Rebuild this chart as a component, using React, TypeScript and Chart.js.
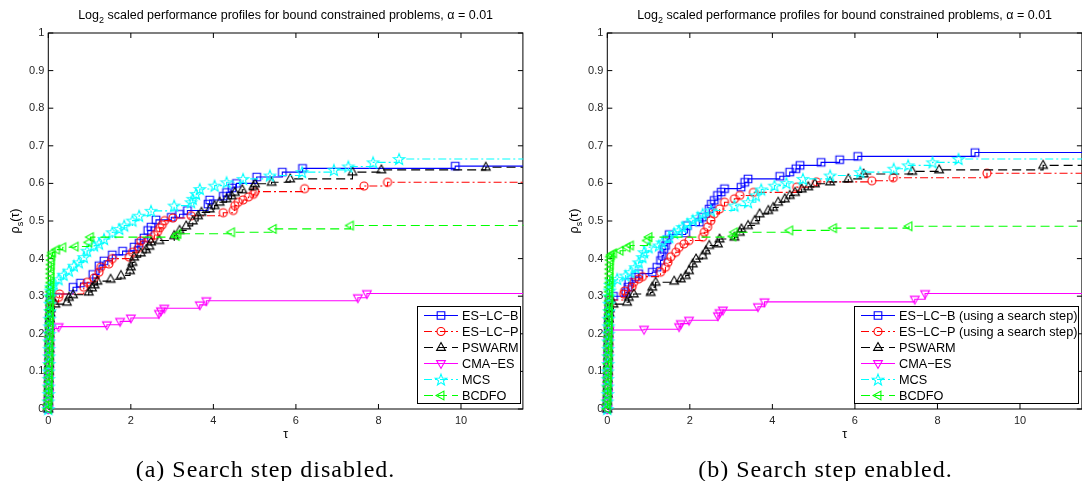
import React, { useEffect, useRef } from 'react';
import { Chart, registerables } from 'chart.js';
Chart.register(...registerables);

type Pt = [number, number];

const TAU_MAX = 11.5;
const X_TICKS = [0, 2, 4, 6, 8, 10];
const Y_TICKS = [0, 0.1, 0.2, 0.3, 0.4, 0.5, 0.6, 0.7, 0.8, 0.9, 1];
const NAMES_A = ['ES−LC−B', 'ES−LC−P', 'PSWARM', 'CMA−ES', 'MCS', 'BCDFO'];
const NAMES_B = ['ES−LC−B (using a search step)', 'ES−LC−P (using a search step)', 'PSWARM', 'CMA−ES', 'MCS', 'BCDFO'];
const TITLE_PARTS = ['Log', '2', ' scaled performance profiles for bound constrained problems, α = 0.01'];
const YLABEL_PARTS = ['ρ', 's', '(τ)'];
const XLABEL = 'τ';
const CAPTION_A = '(a) Search step disabled.';
const CAPTION_B = '(b) Search step enabled.';

// ---- (a) search step disabled ----
const A_ESLCB: Pt[] = [[0, 0], [0, 0.02], [0.01, 0.04], [0.01, 0.06], [0.01, 0.08], [0.01, 0.1], [0.02, 0.12], [0.02, 0.14], [0.02, 0.16], [0.02, 0.18], [0.03, 0.2], [0.03, 0.22], [0.03, 0.24], [0.04, 0.26], [0.04, 0.28], [0.05, 0.295], [0.06, 0.306],
  [0.6, 0.324], [0.78, 0.335], [1.08, 0.358], [1.23, 0.381], [1.35, 0.394], [1.55, 0.41], [1.8, 0.42], [2.08, 0.431], [2.2, 0.441], [2.32, 0.455], [2.41, 0.475], [2.49, 0.484], [2.61, 0.503], [2.98, 0.51], [3.18, 0.518], [3.37, 0.528], [3.87, 0.545], [3.91, 0.556], [4.24, 0.566], [4.32, 0.576], [4.45, 0.588], [4.56, 0.6], [5.05, 0.617], [5.67, 0.63], [6.16, 0.64], [9.86, 0.646], [TAU_MAX, 0.646]];
const A_ESLCP: Pt[] = [[0, 0], [0, 0.02], [0.01, 0.04], [0.01, 0.06], [0.01, 0.08], [0.02, 0.1], [0.02, 0.12], [0.02, 0.14], [0.02, 0.16], [0.03, 0.18], [0.03, 0.2], [0.03, 0.22], [0.04, 0.24], [0.04, 0.26], [0.05, 0.275], [0.06, 0.285],
  [0.25, 0.297], [0.27, 0.306], [0.86, 0.324], [0.94, 0.337], [1.11, 0.348], [1.23, 0.364], [1.27, 0.377], [1.47, 0.386], [1.55, 0.4], [1.96, 0.404], [2.04, 0.417], [2.2, 0.43], [2.24, 0.447], [2.45, 0.452], [2.57, 0.462], [2.65, 0.472], [2.7, 0.482], [2.76, 0.49], [2.82, 0.501], [3.02, 0.508], [3.46, 0.514], [4.24, 0.522], [4.48, 0.528], [4.52, 0.541], [4.6, 0.55], [4.72, 0.556], [4.85, 0.564], [4.97, 0.571], [5.01, 0.578], [6.21, 0.586], [7.65, 0.593], [8.22, 0.603], [TAU_MAX, 0.603]];
const A_PSWARM: Pt[] = [[0, 0], [0, 0.02], [0.01, 0.04], [0.01, 0.06], [0.01, 0.08], [0.02, 0.1], [0.02, 0.12], [0.02, 0.14], [0.03, 0.16], [0.03, 0.18], [0.03, 0.2], [0.04, 0.22], [0.04, 0.24], [0.05, 0.255], [0.06, 0.267],
  [0.17, 0.279], [0.45, 0.284], [0.5, 0.297], [0.6, 0.304], [0.98, 0.311], [1.06, 0.322], [1.12, 0.33], [1.19, 0.34], [1.51, 0.345], [1.76, 0.355], [1.98, 0.368], [2.0, 0.378], [2.04, 0.39], [2.08, 0.404], [2.24, 0.415], [2.37, 0.424], [2.45, 0.433], [2.49, 0.444], [2.69, 0.448], [3.05, 0.461], [3.18, 0.475], [3.34, 0.487], [3.5, 0.5], [3.63, 0.514], [3.71, 0.523], [3.91, 0.532], [4.03, 0.541], [4.15, 0.55], [4.32, 0.559], [4.44, 0.567], [4.52, 0.576], [4.7, 0.583], [4.97, 0.592], [5.01, 0.599], [5.41, 0.603], [5.86, 0.612], [7.37, 0.63], [8.07, 0.636], [10.6, 0.643], [TAU_MAX, 0.643]];
const A_CMAES: Pt[] = [[0, 0], [0, 0.02], [0.01, 0.04], [0.01, 0.06], [0.01, 0.08], [0.02, 0.1], [0.02, 0.12], [0.02, 0.14], [0.03, 0.16], [0.03, 0.18], [0.04, 0.2], [0.05, 0.214],
  [0.25, 0.219], [1.42, 0.224], [1.74, 0.233], [2.0, 0.242], [2.68, 0.254], [2.73, 0.261], [2.81, 0.268], [3.67, 0.277], [3.83, 0.288], [7.5, 0.296], [7.72, 0.307], [TAU_MAX, 0.307]];
const A_MCS: Pt[] = [[0, 0], [0, 0.02], [0.01, 0.04], [0.01, 0.06], [0.01, 0.08], [0.01, 0.1], [0.02, 0.12], [0.02, 0.14], [0.02, 0.16], [0.02, 0.18], [0.03, 0.2], [0.03, 0.22], [0.03, 0.24], [0.04, 0.26], [0.04, 0.28], [0.05, 0.3], [0.06, 0.315], [0.07, 0.325],
  [0.13, 0.333], [0.25, 0.345], [0.37, 0.357], [0.5, 0.368], [0.62, 0.381], [0.74, 0.39], [0.86, 0.404], [0.94, 0.421], [1.11, 0.435], [1.23, 0.44], [1.35, 0.452], [1.55, 0.47], [1.72, 0.479], [1.84, 0.488], [2.04, 0.501], [2.2, 0.514], [2.49, 0.527], [3.05, 0.541], [3.46, 0.55], [3.5, 0.559], [3.58, 0.572], [3.67, 0.585], [4.03, 0.594], [4.32, 0.603], [4.72, 0.612], [5.37, 0.621], [6.15, 0.63], [6.92, 0.636], [7.27, 0.645], [7.87, 0.656], [8.5, 0.665], [TAU_MAX, 0.666]];
const A_BCDFO: Pt[] = [[0, 0], [0, 0.012], [0.01, 0.024], [0.01, 0.036], [0.01, 0.048], [0.01, 0.06], [0.02, 0.072], [0.02, 0.084], [0.02, 0.096], [0.02, 0.108], [0.02, 0.12], [0.03, 0.132], [0.03, 0.144], [0.03, 0.156], [0.03, 0.168], [0.03, 0.18], [0.03, 0.192], [0.04, 0.204], [0.04, 0.216], [0.04, 0.228], [0.04, 0.24], [0.04, 0.252], [0.04, 0.264], [0.05, 0.276], [0.05, 0.288], [0.05, 0.3], [0.05, 0.312], [0.05, 0.324], [0.06, 0.336], [0.06, 0.348], [0.06, 0.36], [0.06, 0.372], [0.07, 0.384], [0.07, 0.396], [0.08, 0.408], [0.1, 0.416],
  [0.2, 0.424], [0.35, 0.43], [0.65, 0.432], [0.98, 0.443], [1.02, 0.457], [3.1, 0.46], [3.14, 0.466], [4.44, 0.47], [5.45, 0.479], [7.32, 0.488], [TAU_MAX, 0.49]];

// ---- (b) search step enabled ----
const B_ESLCB: Pt[] = [[0, 0], [0, 0.02], [0.01, 0.04], [0.01, 0.06], [0.01, 0.08], [0.01, 0.1], [0.02, 0.12], [0.02, 0.14], [0.02, 0.16], [0.02, 0.18], [0.03, 0.2], [0.03, 0.22], [0.03, 0.24], [0.04, 0.26], [0.04, 0.275], [0.05, 0.29],
  [0.15, 0.3], [0.45, 0.31], [0.5, 0.324], [0.52, 0.337], [0.68, 0.351], [0.76, 0.36], [1.09, 0.364], [1.2, 0.377], [1.29, 0.395], [1.33, 0.408], [1.37, 0.424], [1.41, 0.435], [1.45, 0.45], [1.5, 0.464], [1.9, 0.468], [1.94, 0.488], [2.23, 0.497], [2.3, 0.51], [2.47, 0.532], [2.52, 0.545], [2.59, 0.555], [2.67, 0.568], [2.76, 0.577], [2.84, 0.586], [3.24, 0.59], [3.33, 0.603], [3.41, 0.612], [4.18, 0.619], [4.42, 0.63], [4.57, 0.639], [4.67, 0.648], [5.18, 0.656], [5.63, 0.663], [6.07, 0.672], [8.91, 0.682], [TAU_MAX, 0.684]];
const B_ESLCP: Pt[] = [[0, 0], [0, 0.02], [0.01, 0.04], [0.01, 0.06], [0.01, 0.08], [0.02, 0.1], [0.02, 0.12], [0.02, 0.14], [0.02, 0.16], [0.03, 0.18], [0.03, 0.2], [0.03, 0.22], [0.04, 0.24], [0.04, 0.26], [0.05, 0.275], [0.06, 0.29],
  [0.4, 0.306], [0.42, 0.314], [0.6, 0.324], [0.64, 0.337], [0.76, 0.346], [0.85, 0.352], [1.29, 0.364], [1.41, 0.377], [1.47, 0.39], [1.54, 0.405], [1.66, 0.417], [1.74, 0.43], [1.86, 0.439], [1.98, 0.448], [2.31, 0.457], [2.35, 0.47], [2.43, 0.484], [2.51, 0.501], [2.59, 0.519], [2.72, 0.532], [2.84, 0.55], [3.08, 0.559], [3.21, 0.568], [3.54, 0.576], [4.59, 0.59], [5.07, 0.604], [6.41, 0.607], [6.93, 0.615], [9.2, 0.627], [TAU_MAX, 0.627]];
const B_PSWARM: Pt[] = [[0, 0], [0, 0.02], [0.01, 0.04], [0.01, 0.06], [0.01, 0.08], [0.02, 0.1], [0.02, 0.12], [0.02, 0.14], [0.03, 0.16], [0.03, 0.18], [0.03, 0.2], [0.04, 0.22], [0.04, 0.24], [0.05, 0.255], [0.06, 0.267],
  [0.15, 0.279], [0.48, 0.284], [0.52, 0.297], [0.64, 0.306], [1.05, 0.31], [1.09, 0.324], [1.17, 0.337], [1.62, 0.34], [1.78, 0.346], [1.9, 0.355], [1.98, 0.368], [2.07, 0.386], [2.15, 0.399], [2.31, 0.408], [2.39, 0.421], [2.47, 0.435], [2.68, 0.439], [2.72, 0.452], [3.08, 0.457], [3.21, 0.47], [3.25, 0.479], [3.41, 0.488], [3.57, 0.501], [3.69, 0.519], [3.9, 0.528], [4.02, 0.536], [4.14, 0.55], [4.3, 0.559], [4.42, 0.568], [4.55, 0.576], [4.71, 0.585], [4.87, 0.591], [5.03, 0.599], [5.4, 0.604], [5.84, 0.612], [6.21, 0.625], [7.39, 0.632], [8.04, 0.636], [10.56, 0.648], [TAU_MAX, 0.648]];
const B_CMAES: Pt[] = [[0, 0], [0, 0.02], [0.01, 0.04], [0.01, 0.06], [0.01, 0.08], [0.02, 0.1], [0.02, 0.12], [0.02, 0.14], [0.03, 0.16], [0.03, 0.18], [0.04, 0.196], [0.05, 0.21],
  [0.89, 0.212], [1.74, 0.219], [1.78, 0.227], [1.98, 0.236], [2.68, 0.248], [2.72, 0.256], [2.8, 0.263], [3.65, 0.272], [3.81, 0.285], [7.45, 0.292], [7.7, 0.307], [TAU_MAX, 0.307]];
const B_MCS: Pt[] = [[0, 0], [0, 0.02], [0.01, 0.04], [0.01, 0.06], [0.01, 0.08], [0.01, 0.1], [0.02, 0.12], [0.02, 0.14], [0.02, 0.16], [0.02, 0.18], [0.03, 0.2], [0.03, 0.22], [0.03, 0.24], [0.04, 0.26], [0.04, 0.28], [0.05, 0.3], [0.06, 0.315], [0.07, 0.33],
  [0.1, 0.34], [0.24, 0.346], [0.44, 0.355], [0.56, 0.364], [0.68, 0.377], [0.76, 0.39], [0.85, 0.404], [0.89, 0.417], [1.0, 0.43], [1.25, 0.435], [1.33, 0.443], [1.5, 0.457], [1.62, 0.468], [1.74, 0.475], [1.82, 0.484], [1.94, 0.493], [2.07, 0.502], [2.19, 0.51], [2.31, 0.519], [2.51, 0.528], [3.08, 0.541], [3.41, 0.55], [3.6, 0.568], [3.73, 0.584], [4.05, 0.594], [4.34, 0.601], [4.74, 0.612], [5.4, 0.621], [6.13, 0.63], [6.94, 0.639], [7.29, 0.648], [7.88, 0.656], [8.51, 0.665], [TAU_MAX, 0.666]];
const B_BCDFO: Pt[] = [[0, 0], [0, 0.012], [0.01, 0.024], [0.01, 0.036], [0.01, 0.048], [0.01, 0.06], [0.02, 0.072], [0.02, 0.084], [0.02, 0.096], [0.02, 0.108], [0.02, 0.12], [0.03, 0.132], [0.03, 0.144], [0.03, 0.156], [0.03, 0.168], [0.03, 0.18], [0.03, 0.192], [0.04, 0.204], [0.04, 0.216], [0.04, 0.228], [0.04, 0.24], [0.04, 0.252], [0.04, 0.264], [0.05, 0.276], [0.05, 0.288], [0.05, 0.3], [0.05, 0.312], [0.05, 0.324], [0.06, 0.336], [0.06, 0.348], [0.06, 0.36], [0.06, 0.372], [0.07, 0.384], [0.07, 0.396], [0.08, 0.405], [0.1, 0.41],
  [0.15, 0.414], [0.31, 0.421], [0.48, 0.43], [0.56, 0.435], [0.97, 0.448], [1.01, 0.457], [3.04, 0.459], [3.08, 0.47], [4.42, 0.475], [5.48, 0.481], [7.31, 0.486], [TAU_MAX, 0.49]];

const SERIES_A = [A_ESLCB, A_ESLCP, A_PSWARM, A_CMAES, A_MCS, A_BCDFO];
const SERIES_B = [B_ESLCB, B_ESLCP, B_PSWARM, B_CMAES, B_MCS, B_BCDFO];

// ---- styles (kept apart from data) ----
const STYLES = [
  { color: '#0000ff', dash: [] as number[], marker: 'square' },
  { color: '#ff0000', dash: [8, 3, 2, 3], marker: 'circle' },
  { color: '#000000', dash: [9, 5], marker: 'up' },
  { color: '#ff00ff', dash: [] as number[], marker: 'down' },
  { color: '#00ffff', dash: [8, 3, 2, 3], marker: 'star' },
  { color: '#00ff00', dash: [9, 5], marker: 'left' },
];

const CANVAS_W = 559;
const CANVAS_H = 481;
const AREA = { left: 48.3, right: 522.9, top: 33, bottom: 409 };
const FONT = '"Liberation Sans", Arial, Helvetica, sans-serif';

// vector marker path, shared by plot markers and legend
function markerPath(g: CanvasRenderingContext2D, kind: string, x: number, y: number) {
  const poly = (pts: number[][]) => {
    pts.forEach(([px, py], i) => (i ? g.lineTo(x + px, y + py) : g.moveTo(x + px, y + py)));
    g.closePath();
  };
  g.beginPath();
  if (kind === 'square') g.rect(x - 3.8, y - 3.8, 7.6, 7.6);
  else if (kind === 'circle') g.arc(x, y, 4, 0, Math.PI * 2);
  else if (kind === 'up') poly([[0, -4.9], [4.4, 2.9], [-4.4, 2.9]]);
  else if (kind === 'down') poly([[-4.4, -2.9], [4.4, -2.9], [0, 4.9]]);
  else if (kind === 'left') poly([[-4.9, 0], [2.9, -4.4], [2.9, 4.4]]);
  else if (kind === 'star') {
    const pts: number[][] = [];
    for (let i = 0; i < 10; i++) {
      const r = i % 2 === 0 ? 6 : 2.5;
      const a = -Math.PI / 2 + (i * Math.PI) / 5;
      pts.push([r * Math.cos(a), 0.6 + r * Math.sin(a)]);
    }
    poly(pts);
  }
}

function makeMarker(kind: string, color: string): HTMLCanvasElement {
  const c = document.createElement('canvas');
  c.width = 16;
  c.height = 16;
  const g = c.getContext('2d')!;
  g.strokeStyle = color;
  g.lineWidth = 1.1;
  markerPath(g, kind, 8, 8);
  g.stroke();
  return c;
}

type Part = { text: string; size: number; dy: number };
function drawParts(ctx: CanvasRenderingContext2D, parts: Part[], cx: number, baseline: number) {
  let w = 0;
  for (const p of parts) {
    ctx.font = `${p.size}px ${FONT}`;
    w += ctx.measureText(p.text).width;
  }
  let x = cx - w / 2;
  ctx.textAlign = 'left';
  ctx.textBaseline = 'alphabetic';
  for (const p of parts) {
    ctx.font = `${p.size}px ${FONT}`;
    ctx.fillText(p.text, x, baseline + p.dy);
    x += ctx.measureText(p.text).width;
  }
}

type LegendBox = { x: number; y: number; w: number; h: number };

function Profile({ series, names, legend }: { series: Pt[][]; names: string[]; legend: LegendBox }) {
  const ref = useRef<HTMLCanvasElement>(null);
  useEffect(() => {
    const markers = STYLES.map((s) => makeMarker(s.marker, s.color));
    const decor = {
      id: 'matlabDecor',
      beforeDatasetsDraw(chart: any) {
        const { ctx, chartArea: a, scales } = chart;
        ctx.save();
        ctx.strokeStyle = '#000';
        ctx.lineWidth = 1;
        ctx.setLineDash([]);
        ctx.strokeRect(a.left, a.top, a.right - a.left, a.bottom - a.top);
        ctx.beginPath();
        for (const t of scales.x.ticks) {
          const px = scales.x.getPixelForValue(t.value);
          ctx.moveTo(px, a.bottom);
          ctx.lineTo(px, a.bottom - 5);
          ctx.moveTo(px, a.top);
          ctx.lineTo(px, a.top + 5);
        }
        for (const t of scales.y.ticks) {
          const py = scales.y.getPixelForValue(t.value);
          ctx.moveTo(a.left, py);
          ctx.lineTo(a.left + 5, py);
          ctx.moveTo(a.right, py);
          ctx.lineTo(a.right - 5, py);
        }
        ctx.stroke();
        ctx.restore();
      },
      afterDraw(chart: any) {
        const { ctx, chartArea: a } = chart;
        const cx = (a.left + a.right) / 2;
        ctx.save();
        ctx.fillStyle = '#000';
        drawParts(ctx, [
          { text: TITLE_PARTS[0], size: 12.5, dy: 0 },
          { text: TITLE_PARTS[1], size: 9, dy: 3.5 },
          { text: TITLE_PARTS[2], size: 12.5, dy: 0 },
        ], cx, 19);
        drawParts(ctx, [{ text: XLABEL, size: 12.5, dy: 0 }], cx, 438);
        ctx.save();
        ctx.translate(19, (a.top + a.bottom) / 2);
        ctx.rotate(-Math.PI / 2);
        drawParts(ctx, [
          { text: YLABEL_PARTS[0], size: 12.5, dy: 0 },
          { text: YLABEL_PARTS[1], size: 9, dy: 3.5 },
          { text: YLABEL_PARTS[2], size: 12.5, dy: 0 },
        ], 0, 0);
        ctx.restore();
        // legend
        const L = legend;
        ctx.fillStyle = '#fff';
        ctx.fillRect(L.x, L.y, L.w, L.h);
        ctx.strokeStyle = '#000';
        ctx.lineWidth = 1;
        ctx.strokeRect(L.x, L.y, L.w, L.h);
        const rowH = L.h / names.length;
        names.forEach((name, i) => {
          const yy = Math.round(L.y + rowH * (i + 0.5)) + 0.5;
          const st = STYLES[i];
          ctx.save();
          ctx.strokeStyle = st.color;
          ctx.lineWidth = 1;
          ctx.setLineDash(st.dash);
          ctx.beginPath();
          ctx.moveTo(L.x + 6.5, yy);
          ctx.lineTo(L.x + 40.5, yy);
          ctx.stroke();
          ctx.setLineDash([]);
          ctx.fillStyle = '#fff';
          ctx.lineWidth = 1.1;
          markerPath(ctx, st.marker, L.x + 23.5, yy);
          ctx.stroke();
          ctx.restore();
          ctx.fillStyle = '#000';
          ctx.font = `12.7px ${FONT}`;
          ctx.textAlign = 'left';
          ctx.textBaseline = 'middle';
          ctx.fillText(name, L.x + 44.5, yy + 0.5);
        });
        ctx.restore();
      },
    };

    const n = series.length;
    const chart = new Chart(ref.current!, {
      type: 'line',
      data: {
        datasets: series.map((pts, i) => ({
          label: names[i],
          data: pts.map(([x, y]) => ({ x, y })),
          borderColor: STYLES[i].color,
          borderWidth: 1.1,
          borderDash: STYLES[i].dash,
          backgroundColor: 'rgba(0,0,0,0)',
          stepped: 'before' as const,
          pointStyle: markers[i] as any,
          pointRadius: (c: any) => (c.dataIndex === pts.length - 1 ? 0 : 5),
          pointHoverRadius: 0,
          fill: false,
          clip: false as any,
          order: n - i,
        })),
      },
      options: {
        animation: false,
        responsive: false,
        events: [],
        layout: { padding: { top: AREA.top, left: 0, right: CANVAS_W - AREA.right, bottom: 0 } },
        plugins: { legend: { display: false }, tooltip: { enabled: false }, title: { display: false } },
        scales: {
          x: {
            type: 'linear',
            min: 0,
            max: TAU_MAX,
            grid: { display: false, drawTicks: false },
            border: { display: false },
            ticks: { padding: 5, color: '#262626', font: { family: FONT, size: 11 }, callback: (v: any) => String(v) },
            afterBuildTicks: (s: any) => { s.ticks = X_TICKS.map((v) => ({ value: v })); },
            afterFit: (s: any) => { s.height = CANVAS_H - AREA.bottom; },
          },
          y: {
            type: 'linear',
            min: 0,
            max: 1,
            grid: { display: false, drawTicks: false },
            border: { display: false },
            ticks: { padding: 4, color: '#262626', font: { family: FONT, size: 11 }, callback: (v: any) => String(v) },
            afterBuildTicks: (s: any) => { s.ticks = Y_TICKS.map((v) => ({ value: v })); },
            afterFit: (s: any) => { s.width = AREA.left; },
          },
        },
      },
      plugins: [decor],
    } as any);
    return () => chart.destroy();
  }, []);
  return <canvas ref={ref} width={CANVAS_W} height={CANVAS_H} style={{ display: 'block', width: CANVAS_W, height: CANVAS_H }} />;
}

const captionStyle: React.CSSProperties = {
  position: 'absolute',
  top: 456,
  fontFamily: '"Liberation Serif", "Times New Roman", serif',
  fontSize: 24,
  letterSpacing: 1,
  lineHeight: '26px',
  textAlign: 'center',
  color: '#000',
  whiteSpace: 'nowrap',
};

export default function App() {
  return (
    <div style={{ position: 'fixed', left: 0, top: 0, width: 1082, height: 481, overflow: 'hidden', background: '#fff' }}>
      <div style={{ position: 'absolute', left: 0, top: 0 }}>
        <Profile series={SERIES_A} names={NAMES_A} legend={{ x: 417.5, y: 306.5, w: 103, h: 97 }} />
      </div>
      <div style={{ position: 'absolute', left: 559, top: 0 }}>
        <Profile series={SERIES_B} names={NAMES_B} legend={{ x: 295.5, y: 306.5, w: 224, h: 97 }} />
      </div>
      <div style={{ ...captionStyle, left: 0, width: 531 }}>{CAPTION_A}</div>
      <div style={{ ...captionStyle, left: 555, width: 541 }}>{CAPTION_B}</div>
    </div>
  );
}
